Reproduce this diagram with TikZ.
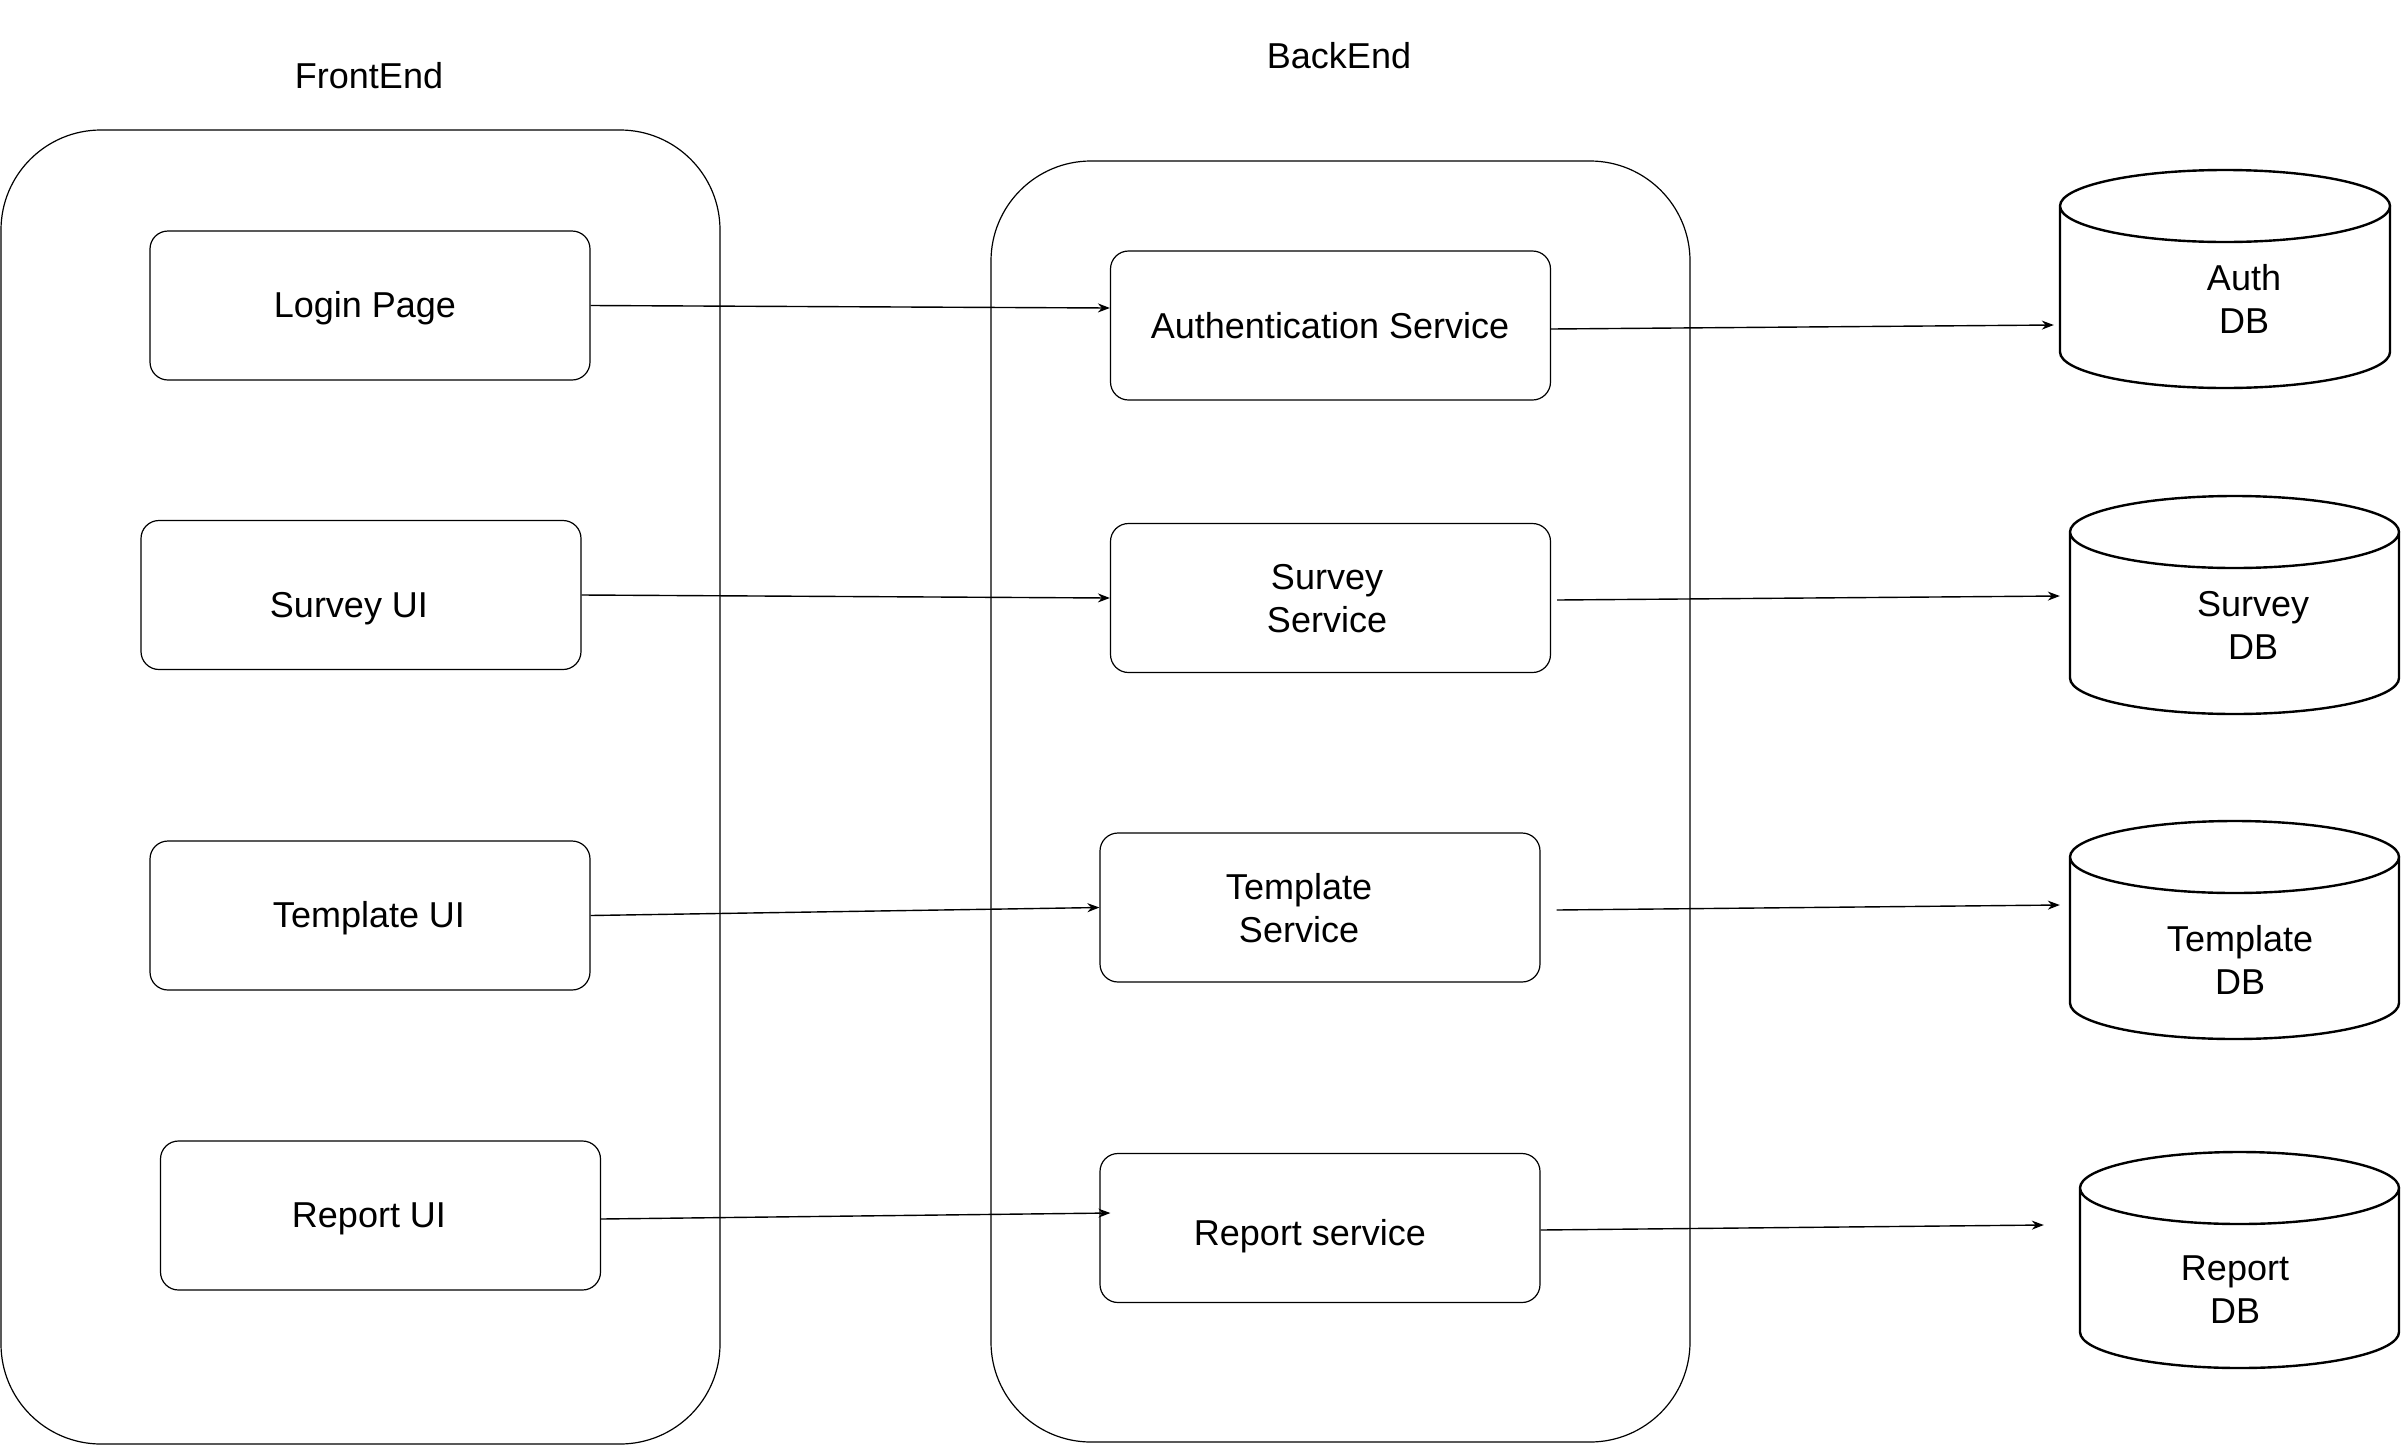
\documentclass[tikz,border=0pt]{standalone}
\usepackage{fontspec}
\setmainfont{Liberation Sans}
\usetikzlibrary{arrows.meta,calc}

\tikzset{
  group/.style={draw, line width=1.2pt, rounded corners=100pt, inner sep=0pt},
  comp/.style={draw, line width=1.2pt, rounded corners=18pt, minimum width=440pt,
               minimum height=149pt, inner sep=0pt},
  lbl/.style={font=\fontsize{36}{43}\selectfont, align=center, inner sep=0pt},
  dbline/.style={draw, line width=2.4pt},
  dbarea/.style={inner sep=0pt},
  conn/.style={draw, line width=1.4pt, -{Stealth[length=12pt,width=9pt]}},
}

% cylinder: name, left, top, right, bottom
\newcommand\dbcyl[5]{%
  \pgfmathsetmacro\dbrx{(#4-#2)/2}%
  \draw[dbline] (#2,#3+36) arc[start angle=180,end angle=-180,x radius=\dbrx pt,y radius=36pt]
    (#2,#3+36) -- (#2,#5-36) arc[start angle=180,end angle=360,x radius=\dbrx pt,y radius=36pt]
    -- (#4,#3+36);
  \node[dbarea, minimum width={(#4-#2)*1pt}, minimum height={(#5-#3)*1pt}] (#1)
    at ({(#2+#4)/2},{(#3+#5)/2}) {};
}

\begin{document}
\begin{tikzpicture}[x=1pt,y=-1pt]
\useasboundingbox (0,0) rectangle (2402,1446);

% group containers
\draw[group] (1,130) rectangle (720,1444);
\draw[group] (991,161) rectangle (1690,1442);
\node[lbl] (fetitle) at (369,76) {FrontEnd};
\node[lbl] (betitle) at (1339,56) {BackEnd};

% front end components
\node[comp] (login) at (370,305.5) {};
\node[comp] (surveyui) at (361,595) {};
\node[comp] (templateui) at (370,915.5) {};
\node[comp] (reportui) at (380.5,1215.5) {};
\node[lbl] (loginT) at (365,308) {Login Page};
\node[lbl] (surveyuiT) at (349,609) {Survey UI};
\node[lbl] (templateuiT) at (369,918) {Template UI};
\node[lbl] (reportuiT) at (369,1219) {Report UI};

% back end services
\node[comp] (auth) at (1330.5,325.5) {};
\node[comp] (surveysvc) at (1330.5,598) {};
\node[comp] (templatesvc) at (1320,907.5) {};
\node[comp] (reportsvc) at (1320,1228) {};
\node[lbl] (authT) at (1330,326) {Authentication Service};
\node[lbl] (surveysvcT) at (1327,599) {Survey\\Service};
\node[lbl] (templatesvcT) at (1299,908) {Template\\Service};
\node[lbl] (reportsvcT) at (1310,1236) {Report service};

% databases
\dbcyl{authdb}{2060}{170}{2390}{388}
\dbcyl{surveydb}{2070}{496}{2399}{714}
\dbcyl{templatedb}{2070}{821}{2399}{1039}
\dbcyl{reportdb}{2080}{1152}{2399}{1368}
\node[lbl] (authdbT) at (2244,299) {Auth\\DB};
\node[lbl] (surveydbT) at (2253,625) {Survey\\DB};
\node[lbl] (templatedbT) at (2240,960) {Template\\DB};
\node[lbl] (reportdbT) at (2235,1290) {Report\\DB};

% front end -> back end
\draw[conn] (login.east) -- ($(auth.west)+(0,-17.5)$);
\draw[conn] (surveyui.east) -- (surveysvc.west);
\draw[conn] (templateui.east) -- (templatesvc.west);
\draw[conn] ($(reportui.east)+(0,3.5)$) -- ($(reportsvc.west)+(11,-15)$);

% back end -> databases
\draw[conn] ($(auth.east)+(0,3.5)$) -- ($(authdb.west)+(-6,46)$);
\draw[conn] ($(surveysvc.east)+(6,2)$) -- ($(surveydb.west)+(-10,-9)$);
\draw[conn] ($(templatesvc.east)+(16,2.5)$) -- ($(templatedb.west)+(-10,-25)$);
\draw[conn] ($(reportsvc.east)+(0,2)$) -- ($(reportdb.west)+(-36,-35)$);
\end{tikzpicture}
\end{document}
